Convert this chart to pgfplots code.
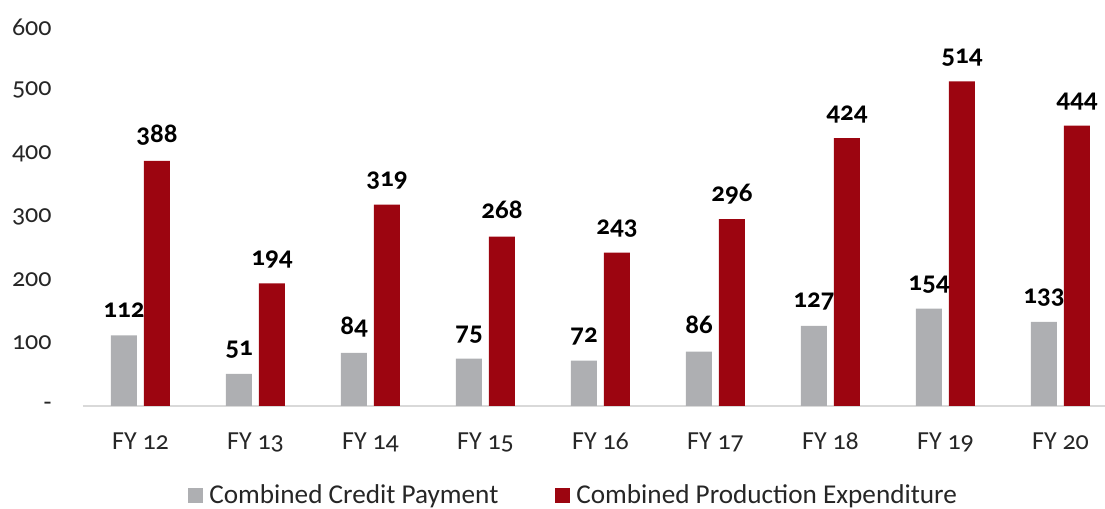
\documentclass[border=0pt]{standalone}
\usepackage{pgfplots}
\pgfplotsset{compat=1.18}
\usepackage{fontspec}
\setmainfont{Carlito}[Numbers=OldStyle]
\definecolor{cgray}{RGB}{174,175,178}
\definecolor{cred}{RGB}{156,5,16}
\definecolor{axgray}{RGB}{217,217,217}
\begin{document}
\begin{tikzpicture}
\useasboundingbox (-41.5pt,-51.5pt) rectangle (511pt,203pt);
\begin{axis}[
  scale only axis,
  width=511pt, height=189.5pt,
  xmin=-0.5, xmax=8.387,
  ymin=0, ymax=600,
  ybar, bar width=13pt,
  /pgf/number format/assume math mode=true,
  axis x line*=bottom, axis y line*=left,
  y axis line style={draw=none},
  x axis line style={draw=axgray, line width=1pt},
  major tick length=0pt,
  xtick={0,...,8},
  xticklabels={FY 12,FY 13,FY 14,FY 15,FY 16,FY 17,FY 18,FY 19,FY 20},
  ytick={0,100,...,600},
  yticklabels={-\hspace{6pt},100,200,300,400,500,600},
  tick label style={font=\fontsize{13}{15}\selectfont, text=black!85},
  xticklabel style={anchor=north, inner sep=0pt, yshift=-13pt},
  yticklabel style={anchor=east, inner sep=0pt, xshift=-15.5pt},
  clip=false,
  nodes near coords,
  every node near coord/.append style={font=\bfseries\fontsize{13.5}{15}\selectfont, text=black, anchor=base, yshift=9pt},
  legend columns=2,
  legend style={at={(0.1027,-0.236)}, anchor=west, draw=none, fill=none, inner sep=0pt,
    font=\fontsize{13.6}{16}\selectfont, text=black!85,
    /tikz/every even column/.append style={column sep=28pt},
    nodes={inner sep=0.5pt, anchor=west}},
  legend image code/.code={\fill[#1] (0pt,-3.75pt) rectangle (7.5pt,3.75pt); \path (10pt,0pt);},
]
\addplot[fill=cgray, draw=none, bar shift=-8.25pt] coordinates {(0,112) (1,51) (2,84) (3,75) (4,72) (5,86) (6,127) (7,154) (8,133)};
\addlegendentry{Combined Credit Payment}
\addplot[fill=cred, draw=none, bar shift=8.25pt] coordinates {(0,388) (1,194) (2,319) (3,268) (4,243) (5,296) (6,424) (7,514) (8,444)};
\addlegendentry{Combined Production Expenditure}
\end{axis}
\end{tikzpicture}
\end{document}
